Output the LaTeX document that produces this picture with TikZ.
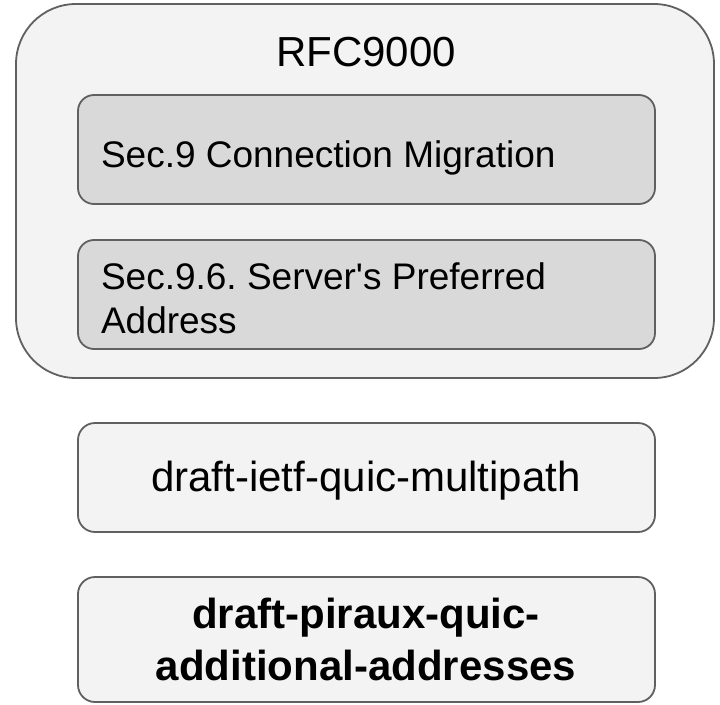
\documentclass[tikz,border=0pt]{standalone}
\usepackage{fontspec}
\setmainfont{Liberation Sans}
\definecolor{outerfill}{HTML}{F3F3F3}
\definecolor{innerfill}{HTML}{D9D9D9}
\definecolor{edgecol}{HTML}{606060}
\frenchspacing
\begin{document}
\begin{tikzpicture}[x=1pt,y=-1pt,
  box/.style={draw=edgecol, line width=1.8pt, rectangle, inner sep=0pt, outer sep=0pt},
  txt/.style={inner sep=0pt, outer sep=0pt, text=black},
  big/.style={txt, font=\fontsize{42}{50}\selectfont},
  small/.style={txt, font=\fontsize{37}{44}\selectfont},
  bigbold/.style={txt, font=\fontsize{42}{50}\selectfont\bfseries}]
\useasboundingbox[fill=white] (0,0) rectangle (720,704);
% boxes
\node[box, fill=outerfill, rounded corners=60pt, minimum width=698pt, minimum height=374pt] (rfc) at (365,191) {};
\node[box, fill=innerfill, rounded corners=16pt, minimum width=577pt, minimum height=109pt] (sec9) at (366.5,149.5) {};
\node[box, fill=innerfill, rounded corners=16pt, minimum width=577pt, minimum height=109pt] (sec96) at (366.5,294.5) {};
\node[box, fill=outerfill, rounded corners=17pt, minimum width=577pt, minimum height=109pt] (mp) at (366.5,477.5) {};
\node[box, fill=outerfill, rounded corners=17pt, minimum width=577pt, minimum height=125pt] (aa) at (366.5,639.5) {};
% texts
\node[big, anchor=base] (rfct) at (366,66) {RFC9000};
\node[small, anchor=base west] (sec9t) at (101,167) {Sec.9 Connection Migration};
\node[small, anchor=base west] (sec96a) at (101,289) {Sec.9.6. Server\textquotesingle s Preferred};
\node[small, anchor=base west] (sec96b) at (101,333) {Address};
\node[big, anchor=base] (mpt) at (366,491) {draft-ietf-quic-multipath};
\node[bigbold, anchor=base] (aata) at (366,628) {draft-piraux-quic-};
\node[bigbold, anchor=base] (aatb) at (366,680) {additional-addresses};
\end{tikzpicture}
\end{document}
